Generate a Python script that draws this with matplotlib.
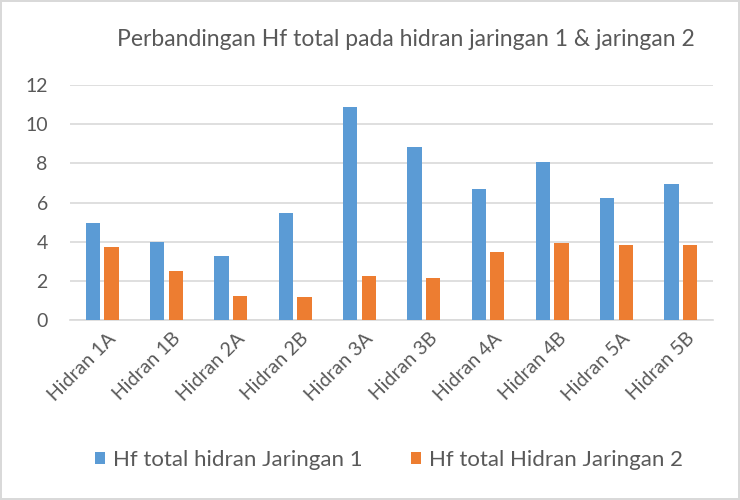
import matplotlib.pyplot as plt
import matplotlib.transforms as mtransforms
import numpy as np

plt.rcParams["font.family"] = ["Lato", "DejaVu Sans"]

# data
hidran = ['Hidran 1A', 'Hidran 1B', 'Hidran 2A', 'Hidran 2B', 'Hidran 3A',
          'Hidran 3B', 'Hidran 4A', 'Hidran 4B', 'Hidran 5A', 'Hidran 5B']
jaringan1 = [4.96, 4.00, 3.25, 5.44, 10.87, 8.82, 6.67, 8.09, 6.22, 6.92]
jaringan2 = [3.71, 2.50, 1.25, 1.16, 2.26, 2.14, 3.45, 3.93, 3.81, 3.85]

biru = '#5B9BD5'
oranye = '#ED7D31'
abu = '#595959'

fig = plt.figure(figsize=(7.4, 5), dpi=100)
fig.patch.set_edgecolor('#D9D9D9')
fig.patch.set_linewidth(1.5)
ax = fig.add_axes([0.0946, 0.36, 0.869, 0.47])

x = np.arange(len(hidran))
w = 0.222
ax.bar(x - 0.145, jaringan1, w, color=biru, label='Hf total hidran Jaringan 1', zorder=3)
ax.bar(x + 0.145, jaringan2, w, color=oranye, label='Hf total Hidran Jaringan 2', zorder=3)

ax.set_xlim(-0.5, len(hidran) - 0.5)
ax.set_ylim(0, 12)
ax.set_yticks(range(0, 13, 2))
ax.grid(axis='y', color='#D9D9D9', linewidth=1.2, zorder=0)
for s in ['top', 'right', 'left']:
    ax.spines[s].set_visible(False)
ax.spines['bottom'].set_color('#D9D9D9')
ax.spines['bottom'].set_linewidth(1.2)
ax.tick_params(axis='both', length=0, colors=abu)
ax.tick_params(axis='y', pad=16, labelsize=14)
ax.tick_params(axis='x', pad=7, labelsize=14)
ax.set_xticks(x)
ax.set_xticklabels(hidran, rotation=45, ha='right', rotation_mode='anchor')

# geser label sumbu x sedikit ke kanan
geser = mtransforms.ScaledTranslation(5 / 100, 0, fig.dpi_scale_trans)
for lbl in ax.get_xticklabels():
    lbl.set_transform(lbl.get_transform() + geser)

fig.text(0.548, 0.92, 'Perbandingan Hf total pada hidran jaringan 1 & jaringan 2',
         ha='center', va='center', fontsize=16.5, color=abu)

ax.legend(loc='center', bbox_to_anchor=(0.526, 0.08), bbox_transform=fig.transFigure,
          ncol=2, frameon=False, fontsize=16, labelcolor=abu,
          handlelength=0.45, handleheight=0.45, handletextpad=0.36, columnspacing=2.2)

fig.savefig('out.png', dpi=100)
